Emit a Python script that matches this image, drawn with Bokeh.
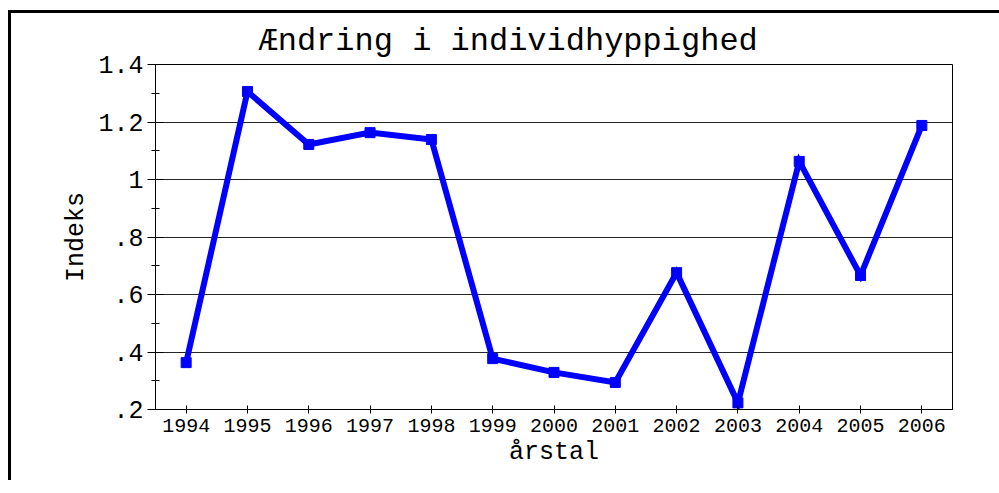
from bokeh.plotting import figure
from bokeh.models import FixedTicker, Range1d
from bokeh.embed import file_html
from bokeh.resources import INLINE

years = [1994, 1995, 1996, 1997, 1998, 1999, 2000, 2001, 2002, 2003, 2004, 2005, 2006]
index_values = [0.363, 1.306, 1.122, 1.163, 1.139, 0.377, 0.329, 0.294, 0.676, 0.223, 1.063, 0.666, 1.188]
y_ticks = [0.2, 0.4, 0.6, 0.8, 1.0, 1.2, 1.4]
y_minor = [0.3, 0.5, 0.7, 0.9, 1.1, 1.3]
y_tick_labels = [".2", ".4", ".6", ".8", "1", "1.2", "1.4"]

FONT = "Liberation Mono"

p = figure(width=1000, height=470, output_backend="svg", toolbar_location=None,
           x_range=Range1d(1993.5, 2006.5), y_range=Range1d(0.2, 1.4),
           min_border_left=144, min_border_right=59, min_border_top=51, min_border_bottom=74,
           title="Ændring i individhyppighed")
p.styles = {"box-shadow": "-3px -3px 0px 0px black",
            "margin-left": "11px", "margin-top": "13px"}

p.title.text_font = FONT
p.title.text_font_size = "32px"
p.title.text_font_style = "normal"
p.title.text_color = "black"
p.title.align = "left"
p.title.offset = 103
p.title.standoff = 10

p.outline_line_color = "black"
p.outline_line_width = 1
p.outline_line_alpha = 1

p.line(years, index_values, line_color="#0000FF", line_width=6, line_join="miter")
p.scatter(years, index_values, marker="square", size=10, fill_color="#0000FF", line_color="#0000FF")

p.xaxis.ticker = FixedTicker(ticks=years)
p.xaxis.major_label_overrides = {y: str(y) for y in years}
p.xaxis.major_tick_in = 4
p.xaxis.major_tick_out = 4
p.xaxis.major_label_text_font = FONT
p.xaxis.major_label_text_font_size = "20px"
p.xaxis.major_label_standoff = 5
p.xaxis.axis_label = "årstal"
p.xaxis.axis_label_text_font = FONT
p.xaxis.axis_label_text_font_size = "25px"
p.xaxis.axis_label_text_font_style = "normal"
p.xaxis.axis_label_standoff = 3

p.yaxis.ticker = FixedTicker(ticks=y_ticks, minor_ticks=y_minor)
p.yaxis.major_label_overrides = {t: l for t, l in zip(y_ticks, y_tick_labels)}
p.yaxis.major_tick_in = 8
p.yaxis.major_tick_out = 8
p.yaxis.minor_tick_in = 4
p.yaxis.minor_tick_out = 4
p.yaxis.major_label_text_font = FONT
p.yaxis.major_label_text_font_size = "25px"
p.yaxis.major_label_standoff = 4
p.yaxis.axis_label = "Indeks"
p.yaxis.axis_label_text_font = FONT
p.yaxis.axis_label_text_font_size = "25px"
p.yaxis.axis_label_text_font_style = "normal"
p.yaxis.axis_label_standoff = 4

for ax in (p.xaxis, p.yaxis):
    ax.axis_line_color = "black"
    ax.major_tick_line_color = "black"
    ax.minor_tick_line_color = "black"
    ax.major_label_text_color = "black"
    ax.axis_label_text_color = "black"
p.xaxis.minor_tick_line_color = None

p.xgrid.grid_line_color = None
p.ygrid.ticker = FixedTicker(ticks=y_ticks)
p.ygrid.grid_line_color = "black"
p.ygrid.grid_line_alpha = 0.85
p.background_fill_color = "white"
p.border_fill_color = "white"

open("out.html", "w").write(file_html(p, INLINE))
